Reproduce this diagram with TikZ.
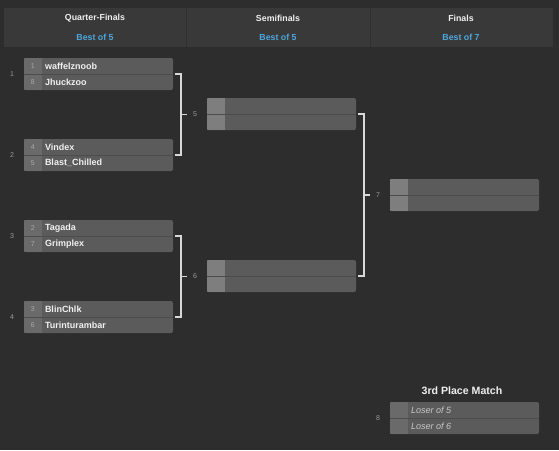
\documentclass[tikz,border=0pt]{standalone}
\usepackage{fontspec}
\setmainfont{Liberation Sans}
\usetikzlibrary{calc}
\definecolor{bgc}{HTML}{2D2D2D}
\definecolor{hdrc}{HTML}{393939}
\definecolor{divc}{HTML}{2F2F2F}
\definecolor{boxc}{HTML}{5B5B5B}
\definecolor{seedc}{HTML}{6A6A6A}
\definecolor{emptyc}{HTML}{7E7E7E}
\definecolor{sepc}{HTML}{4C4C4C}
\definecolor{namec}{HTML}{F0F0F0}
\definecolor{seedtc}{HTML}{A8A8A8}
\definecolor{numc}{HTML}{9A9A9A}
\definecolor{bluec}{HTML}{4DA6DC}
\definecolor{connc}{HTML}{D8D8D8}
\definecolor{losec}{HTML}{C8C8C8}
\tikzset{
  matchbox/.style={draw=none, fill=boxc, rounded corners=2pt, minimum width=149pt, minimum height=32pt, inner sep=0pt},
  seedtxt/.style={text=seedtc, font=\fontsize{7}{8}\selectfont, inner sep=0pt},
  nametxt/.style={text=namec, font=\fontsize{9}{10}\selectfont\bfseries, inner sep=0pt, anchor=west},
  losetxt/.style={text=losec, font=\fontsize{9}{10}\selectfont\itshape, inner sep=0pt, anchor=west},
  numtxt/.style={text=numc, font=\fontsize{7}{8}\selectfont, inner sep=0pt},
  hdrtitle/.style={text=namec, font=\fontsize{8.8}{10}\selectfont\bfseries, inner sep=0pt},
  hdrbest/.style={text=bluec, font=\fontsize{8.8}{10}\selectfont\bfseries, inner sep=0pt},
  conn/.style={draw=connc, line width=1.6pt},
  seppath/.style={draw=sepc, line width=1pt},
}
\newcommand{\matchcells}[2]{%
  \begin{scope}
    \clip[rounded corners=2pt] (#1.north west) rectangle (#1.south east);
    \fill[#2] (#1.north west) rectangle ([xshift=18pt]#1.south west);
  \end{scope}
  \draw[seppath] (#1.west) -- (#1.east);
}
\begin{document}
\begin{tikzpicture}[x=1pt,y=-1pt]
\fill[bgc] (0,0) rectangle (559,450);
\useasboundingbox (0,0) rectangle (559,450);
% header
\fill[hdrc] (4,8) rectangle (553,47);
\draw[divc, line width=1pt] (186,8) -- (186,47);
\draw[divc, line width=1pt] (370,8) -- (370,47);
\node[hdrtitle] (h1) at (95,18.5) {Quarter-Finals};
\node[hdrbest] (b1) at (95,37.5) {Best of 5};
\node[hdrtitle] (h2) at (278,18.5) {Semifinals};
\node[hdrbest] (b2) at (278,37.5) {Best of 5};
\node[hdrtitle] (h3) at (461,18.5) {Finals};
\node[hdrbest] (b3) at (461,37.5) {Best of 7};
% matches
\node[matchbox] (m1) at (98.5,74) {};
\node[matchbox] (m2) at (98.5,155) {};
\node[matchbox] (m3) at (98.5,236) {};
\node[matchbox] (m4) at (98.5,317) {};
\node[matchbox] (m5) at (281.5,114) {};
\node[matchbox] (m6) at (281.5,276) {};
\node[matchbox] (m7) at (464.5,195) {};
\node[matchbox] (m8) at (464.5,418) {};
\matchcells{m1}{seedc}
\matchcells{m2}{seedc}
\matchcells{m3}{seedc}
\matchcells{m4}{seedc}
\matchcells{m5}{emptyc}
\matchcells{m6}{emptyc}
\matchcells{m7}{emptyc}
\matchcells{m8}{seedc}
% entries
\node[seedtxt] (s1a) at ($(m1.north west)+(9,8)$) {1};
\node[nametxt] (p1a) at ($(m1.north west)+(21,8)$) {waffelznoob};
\node[seedtxt] (s1b) at ($(m1.north west)+(9,24)$) {8};
\node[nametxt] (p1b) at ($(m1.north west)+(21,24)$) {Jhuckzoo};
\node[seedtxt] (s2a) at ($(m2.north west)+(9,8)$) {4};
\node[nametxt] (p2a) at ($(m2.north west)+(21,8)$) {Vindex};
\node[seedtxt] (s2b) at ($(m2.north west)+(9,24)$) {5};
\node[nametxt] (p2b) at ($(m2.north west)+(21,24)$) {Blast\_Chilled};
\node[seedtxt] (s3a) at ($(m3.north west)+(9,8)$) {2};
\node[nametxt] (p3a) at ($(m3.north west)+(21,8)$) {Tagada};
\node[seedtxt] (s3b) at ($(m3.north west)+(9,24)$) {7};
\node[nametxt] (p3b) at ($(m3.north west)+(21,24)$) {Grimplex};
\node[seedtxt] (s4a) at ($(m4.north west)+(9,8)$) {3};
\node[nametxt] (p4a) at ($(m4.north west)+(21,8)$) {BlinChlk};
\node[seedtxt] (s4b) at ($(m4.north west)+(9,24)$) {6};
\node[nametxt] (p4b) at ($(m4.north west)+(21,24)$) {Turinturambar};
\node[losetxt] (l8a) at ($(m8.north west)+(21,8)$) {Loser of 5};
\node[losetxt] (l8b) at ($(m8.north west)+(21,24)$) {Loser of 6};
% match numbers
\node[numtxt] (n1) at (12,74) {1};
\node[numtxt] (n2) at (12,155) {2};
\node[numtxt] (n3) at (12,236) {3};
\node[numtxt] (n4) at (12,317) {4};
\node[numtxt] (n5) at (195,114.5) {5};
\node[numtxt] (n6) at (195,276.5) {6};
\node[numtxt] (n7) at (378,195) {7};
\node[numtxt] (n8) at (378,418) {8};
\node[text=namec, font=\fontsize{10.6}{12}\selectfont\bfseries, inner sep=0pt] (t8) at (462,391) {3rd Place Match};
% connectors
\coordinate (j5) at ($(m1.east)!0.5!(m2.east)+(8,0)$);
\coordinate (j6) at ($(m3.east)!0.5!(m4.east)+(8,0)$);
\coordinate (j7) at ($(m5.east)!0.5!(m6.east)+(8,0)$);
\draw[conn] ([xshift=2pt]m1.east) -| (j5) |- ([xshift=2pt]m2.east);
\draw[conn] (j5) -- ([xshift=-6pt]n5.west);
\draw[conn] ([xshift=2pt]m3.east) -| (j6) |- ([xshift=2pt]m4.east);
\draw[conn] (j6) -- ([xshift=-6pt]n6.west);
\draw[conn] ([xshift=2pt]m5.east) -| (j7) |- ([xshift=2pt]m6.east);
\draw[conn] (j7) -- ([xshift=-6pt]n7.west);
\end{tikzpicture}
\end{document}
